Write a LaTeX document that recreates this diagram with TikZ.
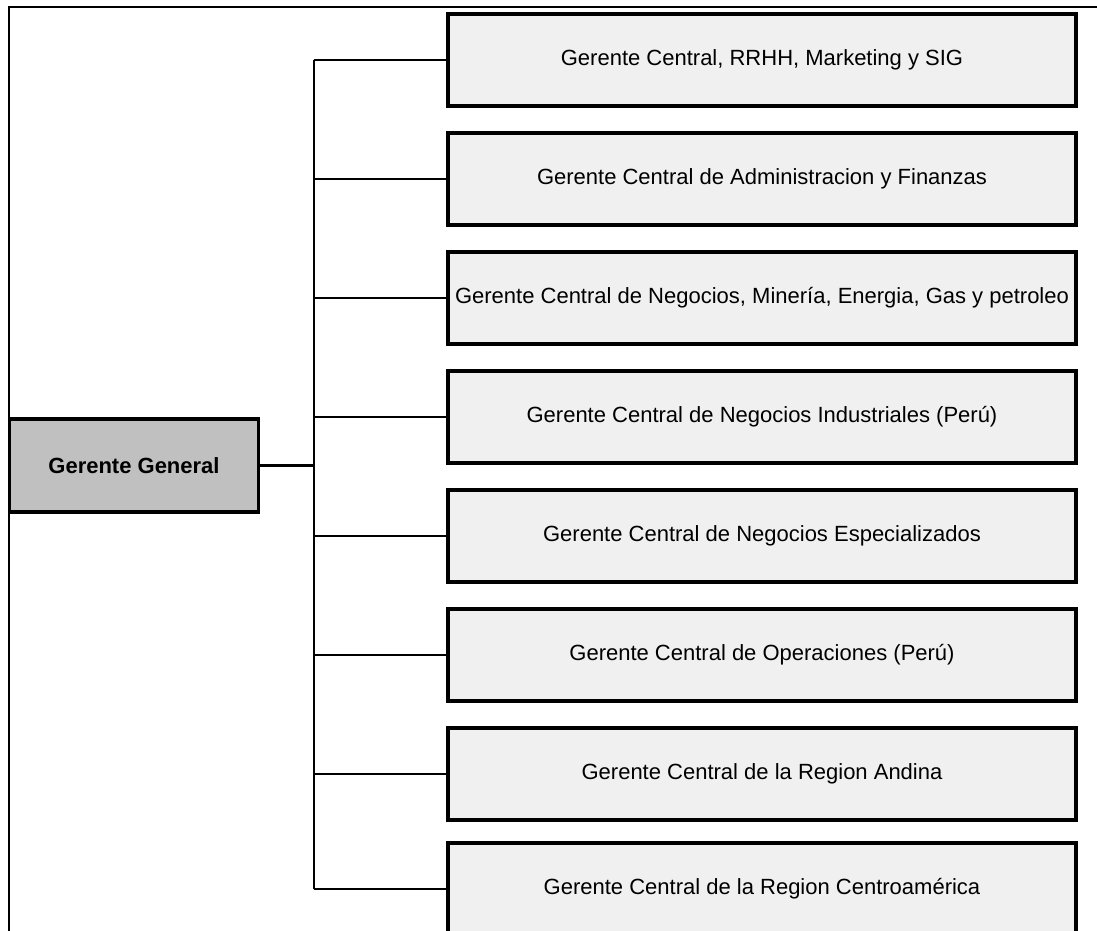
\documentclass[tikz,border=0pt]{standalone}
\usepackage{fontspec}
\setmainfont{Liberation Sans}
\definecolor{boxfill}{HTML}{F0F0F0}
\definecolor{headfill}{HTML}{C0C0C0}
\begin{document}
\begin{tikzpicture}[x=0.75pt,y=-0.75pt,
  every node/.style={font=\fontsize{16.5}{19}\selectfont, text=black},
  frameline/.style={line width=1.5pt},
  link/.style={line width=1.6pt},
  headbox/.style={draw=black, line width=2.4pt, fill=headfill,
    minimum width=186.75pt, minimum height=69.75pt, inner sep=0pt},
  unitbox/.style={draw=black, line width=3pt, fill=boxfill,
    minimum width=471pt, minimum height=69pt, inner sep=0pt}]
  % page area
  \clip (0,0) rectangle (1097,931);
  \fill[white] (0,0) rectangle (1097,931);
  % outer frame (top and left edges)
  \draw[frameline] (1097,7) -- (9,7) -- (9,931);
  % general manager
  \node[headbox] (gg) at (134,465.5) {\bfseries Gerente General};
  % central managers
  \foreach \i/\y/\t in {1/60/{Gerente Central, RRHH, Marketing y SIG},
                     2/179/{Gerente Central de Administracion y Finanzas},
                     3/298/{Gerente Central de Negocios, Minería, Energia, Gas y petroleo},
                     4/417/{Gerente Central de Negocios Industriales (Perú)},
                     5/536/{Gerente Central de Negocios Especializados},
                     6/655/{Gerente Central de Operaciones (Perú)},
                     7/774/{Gerente Central de la Region Andina},
                     8/889/{Gerente Central de la Region Centroamérica}}
    \node[unitbox] (b\i) at (762,\y) {\t};
  % connectors
  \coordinate (bus) at (314,0);
  \draw[link] (gg.east) -- (gg.east -| bus);
  \draw[link] (b1.west -| bus) -- (b8.west -| bus);
  \foreach \i in {1,...,8}
    \draw[link] (b\i.west -| bus) -- (b\i.west);
\end{tikzpicture}
\end{document}
